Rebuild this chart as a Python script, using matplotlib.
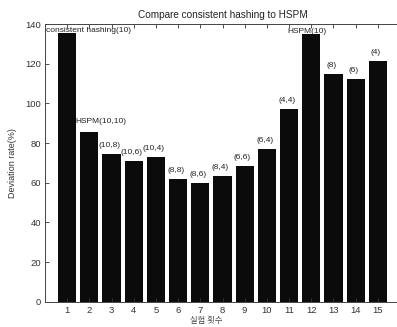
import matplotlib.pyplot as plt

runs = list(range(1, 16))
deviation = [135.5, 85.4, 74.4, 70.7, 72.9, 61.8, 59.8, 63.5, 68.2, 77.1, 97.3, 135.0, 114.8, 112.5, 121.2]
bar_labels = ['consistent hashing(10)', 'HSPM(10,10)', '(10,8)', '(10,6)', '(10,4)',
              '(8,8)', '(8,6)', '(8,4)', '(6,6)', '(6,4)', '(4,4)',
              'HSPM(10)', '(8)', '(6)', '(4)']

plt.rcParams['font.family'] = ['Liberation Sans', 'DejaVu Sans']

fig = plt.figure(figsize=(3.97, 3.27), dpi=100)
ax = fig.add_axes([45 / 397, 25.3 / 327, 355 / 397, 277.7 / 327])

ax.bar(runs, deviation, width=0.82, color='#0b0b0b')

ax.set_xlim(0, 16)
ax.set_ylim(0, 140)
ax.set_xticks(runs)
ax.set_yticks(range(0, 141, 20))
ax.tick_params(direction='in', length=3, width=0.6, labelsize=6.8, colors='#333333',
               top=True, right=False, pad=3)
for s in ax.spines.values():
    s.set_linewidth(0.7)
    s.set_color('#444444')

# value labels above the bars
for i, (x, v, t) in enumerate(zip(runs, deviation, bar_labels)):
    if i == 0:
        ax.text(0.05, 136.7, t, fontsize=6, color='#222222', ha='left', va='center')
    elif i == 1:
        ax.text(x + 0.5, v + 5.4, t, fontsize=6, color='#222222', ha='center', va='center')
    elif i == 11:
        ax.text(x - 0.2, v + 1.3, t, fontsize=6, color='#222222', ha='center', va='center')
    else:
        ax.text(x - 0.1, v + 4.3, t, fontsize=6, color='#222222', ha='center', va='center')

ax.set_title('Compare consistent hashing to HSPM', fontsize=7.2, color='#222222', pad=4)
ax.set_ylabel('Deviation rate(%)', fontsize=6.5, color='#333333', labelpad=6)
ax.set_xlabel('실험 횟수', fontsize=6, color='#444444', labelpad=3,
              family=['Noto Sans CJK KR', 'DejaVu Sans'])
ax.xaxis.set_label_coords(0.455, -0.05)

fig.savefig('out.png', dpi=100)
